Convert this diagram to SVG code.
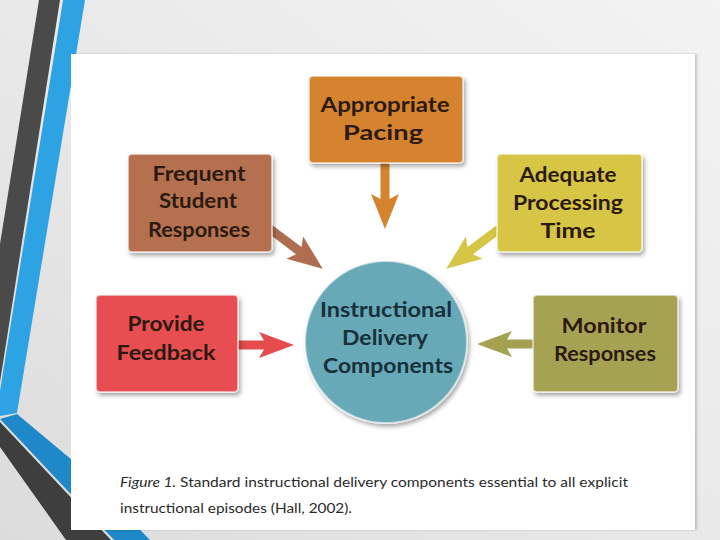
<svg xmlns="http://www.w3.org/2000/svg" width="720" height="540" viewBox="0 0 720 540">
  <defs>
    <linearGradient id="bg" x1="0" y1="1" x2="1" y2="0">
      <stop offset="0" stop-color="#dcdcdc"/>
      <stop offset="0.5" stop-color="#e9e9e9"/>
      <stop offset="1" stop-color="#f3f3f3"/>
    </linearGradient>
    <filter id="shadow" x="-20%" y="-20%" width="150%" height="150%">
      <feDropShadow dx="2" dy="3" stdDeviation="2" flood-color="#000" flood-opacity="0.35"/>
    </filter>
    <filter id="pshadow" x="-5%" y="-5%" width="110%" height="110%">
      <feDropShadow dx="2" dy="0" stdDeviation="1.2" flood-color="#000" flood-opacity="0.18"/>
    </filter>
  </defs>
  <style>
    .box { stroke: #ffffff; stroke-opacity: 0.55; stroke-width: 2; filter: url(#shadow); }
    .lbl { font-family: Lato, "Open Sans", "DejaVu Sans", sans-serif; font-weight: bold; font-size: 20px; text-anchor: middle; fill: #2c1a10; }
    .clbl { fill: #17303a; }
    .cap { font-family: Lato, "Open Sans", "DejaVu Sans", sans-serif; font-size: 14px; fill: #2a2a2a; }
  </style>

  <!-- slide background -->
  <rect x="0" y="0" width="720" height="540" fill="url(#bg)"/>
  <polygon points="39,0 60,0 0,382 0,244" fill="#4a4a4a"/>
  <polygon points="63,0 85,0 17,413 0,416 0,391" fill="#2ea3e3"/>
  <polygon points="0,419 17,414 72,460 150,540 114,540" fill="#1e88c8"/>
  <polygon points="0,422 111,540 66,540 0,447" fill="#3e3e3e"/>

  <!-- white figure panel -->
  <rect x="71" y="54" width="624" height="476" fill="#ffffff" filter="url(#pshadow)"/>

  <!-- connectors -->
  <g id="connectors">
    <g transform="translate(385,163) rotate(90)">
      <polygon points="0,-4.5 36,-4.5 31,-14 66,0 31,14 36,4.5 0,4.5" fill="#d4832e"/>
    </g>
    <g transform="translate(270,229) rotate(37)">
      <polygon points="0,-4.5 36,-4.5 31,-14 66,0 31,14 36,4.5 0,4.5" fill="#b06e50"/>
    </g>
    <g transform="translate(499,229) rotate(143)">
      <polygon points="0,-4.5 36,-4.5 31,-14 66,0 31,14 36,4.5 0,4.5" fill="#d6c647"/>
    </g>
    <g transform="translate(238,345)">
      <polygon points="0,-4.5 26,-4.5 21,-13 56,0 21,13 26,4.5 0,4.5" fill="#e44c4e"/>
    </g>
    <g transform="translate(533,344) rotate(180)">
      <polygon points="0,-4.5 26,-4.5 21,-13 56,0 21,13 26,4.5 0,4.5" fill="#a5a152"/>
    </g>
  </g>

  <!-- nodes -->
  <g id="pacing">
    <rect class="box" x="309" y="76" width="154" height="87" rx="4" fill="#d5832f"/>
    <text class="lbl" x="385" y="112" textLength="129" lengthAdjust="spacingAndGlyphs">Appropriate</text>
    <text class="lbl" x="383" y="140" textLength="80" lengthAdjust="spacingAndGlyphs">Pacing</text>
  </g>
  <g id="frequent">
    <rect class="box" x="128" y="154" width="144" height="98" rx="4" fill="#b5714f"/>
    <text class="lbl" x="199" y="181" textLength="93" lengthAdjust="spacingAndGlyphs">Frequent</text>
    <text class="lbl" x="198" y="208" textLength="78" lengthAdjust="spacingAndGlyphs">Student</text>
    <text class="lbl" x="199" y="237" textLength="102" lengthAdjust="spacingAndGlyphs">Responses</text>
  </g>
  <g id="adequate">
    <rect class="box" x="497" y="154" width="145" height="98" rx="4" fill="#d7c545"/>
    <text class="lbl" x="568" y="182" textLength="97" lengthAdjust="spacingAndGlyphs">Adequate</text>
    <text class="lbl" x="568" y="210" textLength="110" lengthAdjust="spacingAndGlyphs">Processing</text>
    <text class="lbl" x="568" y="238" textLength="55" lengthAdjust="spacingAndGlyphs">Time</text>
  </g>
  <g id="provide">
    <rect class="box" x="96" y="295" width="142" height="97" rx="4" fill="#e84e51"/>
    <text class="lbl" x="166" y="331" textLength="77" lengthAdjust="spacingAndGlyphs">Provide</text>
    <text class="lbl" x="166" y="360" textLength="99" lengthAdjust="spacingAndGlyphs">Feedback</text>
  </g>
  <g id="monitor">
    <rect class="box" x="533" y="295" width="145" height="97" rx="4" fill="#a6a253"/>
    <text class="lbl" x="604" y="333" textLength="85" lengthAdjust="spacingAndGlyphs">Monitor</text>
    <text class="lbl" x="605" y="361" textLength="102" lengthAdjust="spacingAndGlyphs">Responses</text>
  </g>
  <g id="center">
    <circle class="box" cx="386" cy="342" r="81" fill="#68a9b8"/>
    <text class="lbl clbl" x="386" y="317" textLength="132" lengthAdjust="spacingAndGlyphs">Instructional</text>
    <text class="lbl clbl" x="385" y="345" textLength="86" lengthAdjust="spacingAndGlyphs">Delivery</text>
    <text class="lbl clbl" x="388" y="373" textLength="130" lengthAdjust="spacingAndGlyphs">Components</text>
  </g>

  <!-- caption -->
  <g id="caption">
    <text class="cap" x="120" y="487" textLength="508" lengthAdjust="spacingAndGlyphs"><tspan font-style="italic">Figure 1.</tspan>  Standard instructional delivery components essential to all explicit</text>
    <text class="cap" x="120" y="513" textLength="232" lengthAdjust="spacingAndGlyphs">instructional episodes (Hall, 2002).</text>
  </g>
</svg>
